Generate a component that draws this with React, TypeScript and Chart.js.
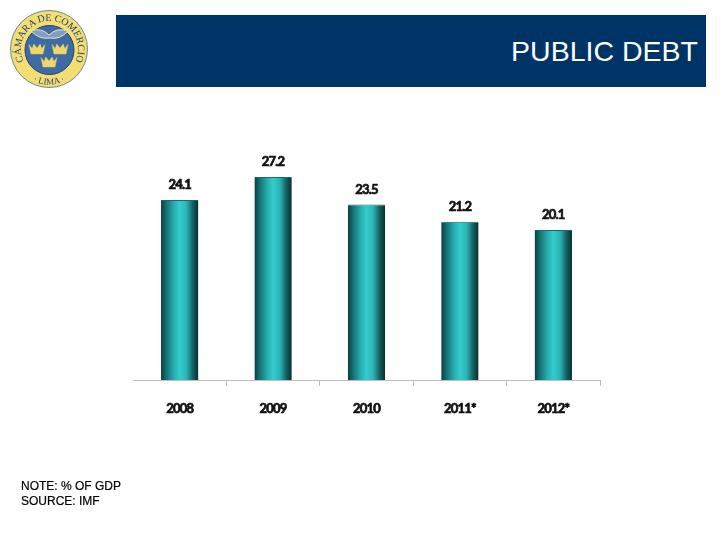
import React, { useEffect, useRef } from "react";
import { Chart, registerables } from "chart.js";

Chart.register(...registerables);

const categories = ["2008", "2009", "2010", "2011*", "2012*"];
const debtValues = [24.1, 27.2, 23.5, 21.2, 20.1];
const valueLabels = ["24.1", "27.2", "23.5", "21.2", "20.1"];
const noteLines = ["NOTE: % OF GDP", "SOURCE: IMF"];
const titleText = "PUBLIC DEBT";

const labelFont = "Lato, sans-serif";

const valueLabelPlugin = {
  id: "valueLabels",
  beforeDraw(chart: any) {
    chart.ctx.letterSpacing = "-0.8px";
  },
  afterDatasetsDraw(chart: any) {
    const { ctx } = chart;
    const meta = chart.getDatasetMeta(0);
    ctx.save();
    ctx.font = `bold 13px ${labelFont}`;
    ctx.fillStyle = "#111";
    ctx.strokeStyle = "#111";
    ctx.lineWidth = 0.7;
    ctx.textAlign = "center";
    ctx.textBaseline = "alphabetic";
    meta.data.forEach((bar: any, i: number) => {
      ctx.strokeText(valueLabels[i], bar.x, bar.y - 11);
      ctx.fillText(valueLabels[i], bar.x, bar.y - 11);
    });
    ctx.restore();
  },
};

function barFill(context: any) {
  const chart = context.chart;
  const xScale = chart.scales.x;
  if (!chart.chartArea || !xScale || context.dataIndex === undefined) return "#2cbcbc";
  const cx = xScale.getPixelForTick(context.dataIndex);
  const half = 18.5;
  const g = chart.ctx.createLinearGradient(cx - half, 0, cx + half, 0);
  g.addColorStop(0, "#0b3f41");
  g.addColorStop(0.14, "#157274");
  g.addColorStop(0.35, "#28afb0");
  g.addColorStop(0.5, "#33cdcd");
  g.addColorStop(0.68, "#2cb4b5");
  g.addColorStop(0.86, "#145f61");
  g.addColorStop(1, "#082f31");
  return g;
}

function Crown({ x, y }: { x: number; y: number }) {
  return (
    <path
      transform={`translate(${x} ${y})`}
      d="M-8 -5.5 L-4.8 -1.5 L-3.2 -6 L0 -2 L3.2 -6 L4.8 -1.5 L8 -5.5 L6 4 L-6 4 Z"
      fill="#f0d76a"
      stroke="#e5c84e"
      strokeWidth="0.5"
    />
  );
}

function Logo() {
  return (
    <svg
      width="100"
      height="100"
      viewBox="0 0 100 100"
      style={{ position: "absolute", left: 0, top: 0 }}
    >
      <circle cx="49" cy="49" r="38.5" fill="#f3de74" stroke="#4a6a96" strokeWidth="0.8" />
      <circle cx="49.5" cy="50" r="24.5" fill="#3d6ba5" stroke="#23406f" strokeWidth="1" />
      <defs>
        <path id="logoTop" d="M 24.5 63 A 28.5 28.5 0 1 1 74.5 63" />
        <path id="logoBottom" d="M 22.5 73 A 36 36 0 0 0 75.5 73" />
      </defs>
      <text fontFamily="'Liberation Serif', serif" fontSize="10" fill="#26406e">
        <textPath href="#logoTop" startOffset="50%" textAnchor="middle" textLength="114">
          CÁMARA DE COMERCIO
        </textPath>
      </text>
      <text fontFamily="'Liberation Serif', serif" fontSize="9" fill="#26406e">
        <textPath href="#logoBottom" startOffset="50%" textAnchor="middle">
          · LIMA ·
        </textPath>
      </text>
      <path d="M31 31 Q41 27 49 35 Q57 27 68 31 Q60 40 50 38 Q40 40 31 31 Z" fill="#7f9fc4" stroke="#f0e6a8" strokeWidth="1" />
      <Crown x={37} y={50} />
      <Crown x={60} y={50} />
      <Crown x={49} y={63} />
    </svg>
  );
}

export default function App() {
  const ref = useRef<HTMLCanvasElement>(null);

  useEffect(() => {
    if (!ref.current) return;
    const chart = new Chart(ref.current, {
      type: "bar",
      plugins: [valueLabelPlugin],
      data: {
        labels: categories,
        datasets: [
          {
            data: debtValues,
            backgroundColor: barFill,
            borderColor: "#17696b",
            borderWidth: { top: 1, left: 0, right: 0, bottom: 0 },
            borderSkipped: false,
            barPercentage: 0.4,
            categoryPercentage: 1,
          } as any,
        ],
      },
      options: {
        animation: false,
        responsive: false,
        layout: { padding: { left: 133, right: 120, top: 156, bottom: 120 } },
        plugins: { legend: { display: false }, tooltip: { enabled: false }, title: { display: false } },
        scales: {
          x: {
            afterFit: (s: any) => {
              s.height = 40;
            },
            border: { color: "#bdbdbd", width: 1 },
            grid: {
              drawOnChartArea: false,
              color: (c: any) => (c.index === 0 ? "rgba(0,0,0,0)" : "#bdbdbd"),
              tickLength: 6,
              offset: true,
            },
            ticks: {
              color: "#111",
              padding: 15,
              maxRotation: 0,
              textStrokeColor: "#111",
              textStrokeWidth: 0.7,
              font: { family: labelFont, size: 13, weight: "bold" },
            },
          },
          y: { display: false, min: 0, max: 30 },
        },
      } as any,
    });
    return () => chart.destroy();
  }, []);

  return (
    <div style={{ position: "absolute", left: 0, top: 0, width: 720, height: 540, background: "#fff", overflow: "hidden" }}>
      <canvas ref={ref} width={720} height={540} style={{ position: "absolute", left: 0, top: 0, display: "block" }} />
      <Logo />
      <div
        style={{
          position: "absolute",
          left: 116,
          top: 15,
          width: 590,
          height: 72,
          background: "#003366",
          color: "#fff",
          fontFamily: "'Liberation Sans', sans-serif",
          fontSize: 28.5,
          lineHeight: "72px",
          textAlign: "right",
          paddingRight: 8,
          boxSizing: "border-box",
        }}
      >
        {titleText}
      </div>
      <div
        style={{
          position: "absolute",
          left: 21,
          top: 479,
          fontFamily: "'Liberation Sans', sans-serif",
          fontSize: 12,
          lineHeight: "15px",
          color: "#000",
          WebkitTextStroke: "0.2px #000",
        }}
      >
        {noteLines.map((l) => (
          <div key={l}>{l}</div>
        ))}
      </div>
    </div>
  );
}
